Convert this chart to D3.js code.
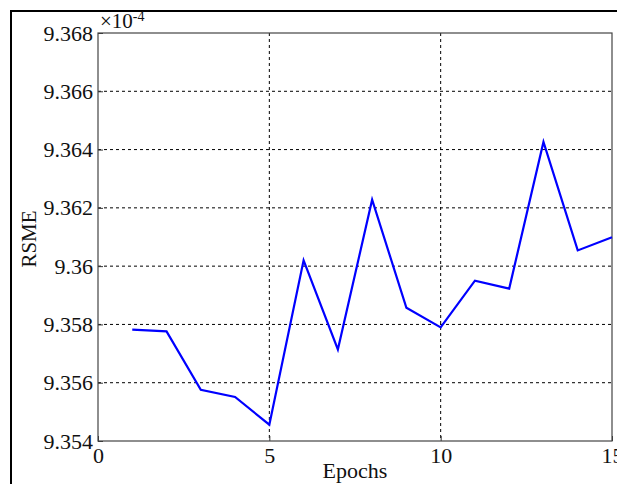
<!DOCTYPE html>
<html><head><meta charset="utf-8">
<script src="https://cdn.jsdelivr.net/npm/d3@7/dist/d3.min.js"></script>
<style>body{margin:0;background:#fff;}svg{display:block;}</style>
</head><body>
<svg id="c" width="617" height="484"></svg>
<script>
const epochs = [1,2,3,4,5,6,7,8,9,10,11,12,13,14,15];
const rsme = [9.35782,9.35776,9.35576,9.35551,9.35456,9.36020,9.35714,9.36228,9.35857,9.35790,9.35950,9.35923,9.36426,9.36054,9.36099];
const xTicks = [0,5,10,15];
const yTicks = [9.354,9.356,9.358,9.36,9.362,9.364,9.366,9.368];
const yTickLabels = ["9.354","9.356","9.358","9.36","9.362","9.364","9.366","9.368"];

const svg = d3.select("#c");
const font = "'Liberation Serif','DejaVu Serif',serif";
const L=98,R=612,T=33,B=441;
const x = d3.scaleLinear().domain([0,15]).range([L,R]);
const y = d3.scaleLinear().domain([9.354,9.368]).range([B,T]);

// outer frame
svg.append("rect").attr("x",11).attr("y",11).attr("width",700).attr("height",600)
  .attr("fill","none").attr("stroke","#000").attr("stroke-width",2);

// grid
svg.append("g").selectAll("line").data(xTicks.filter(d=>d>0&&d<15)).join("line")
  .attr("x1",d=>x(d)).attr("x2",d=>x(d)).attr("y1",T).attr("y2",B)
  .attr("stroke","#000").attr("stroke-width",1).attr("stroke-dasharray","3,3");
svg.append("g").selectAll("line").data(yTicks.filter(d=>d>9.354&&d<9.368)).join("line")
  .attr("x1",L).attr("x2",R).attr("y1",d=>y(d)).attr("y2",d=>y(d))
  .attr("stroke","#000").attr("stroke-width",1).attr("stroke-dasharray","3,3");

// axes
const xa = svg.append("g").attr("transform",`translate(0,${B})`)
  .call(d3.axisBottom(x).tickValues(xTicks).tickSize(-5).tickPadding(6).tickFormat(d3.format("d")));
const ya = svg.append("g").attr("transform",`translate(${L},0)`)
  .call(d3.axisLeft(y).tickValues(yTicks).tickSize(-5).tickPadding(5).tickFormat((d,i)=>yTickLabels[i]));
[xa,ya].forEach(g=>{
  g.select(".domain").remove();
  g.selectAll(".tick line").attr("stroke","#333");
  g.selectAll("text").attr("font-family",font).attr("font-size",22).attr("fill","#111");
});
// box
svg.append("rect").attr("x",L).attr("y",T).attr("width",R-L).attr("height",B-T)
  .attr("fill","none").attr("stroke","#444").attr("stroke-width",1.2);

// line
svg.append("path").datum(epochs.map((e,i)=>[e,rsme[i]]))
  .attr("d",d3.line().x(d=>x(d[0])).y(d=>y(d[1])))
  .attr("fill","none").attr("stroke","#0000ff").attr("stroke-width",2.2).attr("stroke-linejoin","miter");

// labels
svg.append("text").attr("x",(L+R)/2).attr("y",478).attr("text-anchor","middle")
  .attr("font-family",font).attr("font-size",22).attr("fill","#111").text("Epochs");
svg.append("text").attr("transform",`translate(36,${(T+B)/2+2}) rotate(-90)`).attr("text-anchor","middle")
  .attr("font-family",font).attr("font-size",21).attr("fill","#111").text("RSME");
const ex = svg.append("text").attr("x",100).attr("y",28).attr("font-family",font).attr("font-size",21).attr("fill","#111");
ex.append("tspan").text("×10");
ex.append("tspan").attr("dy",-7).attr("font-size",14).text("-4");
</script>
</body></html>
